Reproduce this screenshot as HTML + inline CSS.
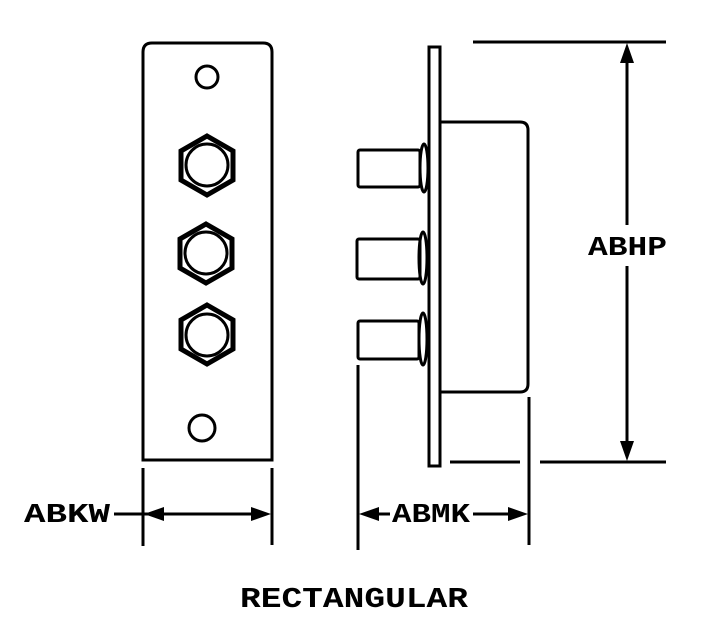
<!DOCTYPE html>
<html><head><style>body{margin:0;background:#fff}</style></head><body>
<svg width="726" height="640" viewBox="0 0 726 640" xmlns="http://www.w3.org/2000/svg" style="display:block">
<g fill="none" stroke="#000" stroke-width="3">
<path d="M143,460 L143,52 Q143,43 152,43 L263,43 Q272,43 272,52 L272,460 Z"/>
<circle cx="207" cy="77" r="11"/>
<circle cx="202" cy="428" r="13"/>
<g stroke-width="5">
<polygon points="207,136 233,151 233,180 207,195 181,180 181,151"/>
<polygon points="206,224 232,239 232,268 206,283 180,268 180,239"/>
<polygon points="207,305 233,320 233,349 207,364 181,349 181,320"/>
</g>
<circle cx="207" cy="165" r="21"/>
<circle cx="206" cy="253" r="21"/>
<circle cx="207" cy="335" r="21"/>
<rect x="429" y="47" width="11" height="419"/>
<path d="M441,122 L520,122 Q528,122 528,130 L528,384 Q528,392 520,392 L441,392"/>
<rect x="358" y="150" width="62" height="37" rx="2"/>
<rect x="357" y="239" width="63" height="40" rx="2"/>
<rect x="358" y="321" width="61" height="38" rx="2"/>
<ellipse cx="424" cy="168" rx="4" ry="24"/>
<ellipse cx="423" cy="258" rx="4" ry="26"/>
<ellipse cx="423" cy="339" rx="4" ry="26"/>
<line x1="143" y1="468" x2="143" y2="546"/>
<line x1="272" y1="468" x2="272" y2="545"/>
<line x1="358" y1="365" x2="358" y2="550"/>
<line x1="529" y1="397" x2="529" y2="545"/>
<line x1="473" y1="42" x2="666" y2="42"/>
<line x1="450" y1="462" x2="520" y2="462"/>
<line x1="540" y1="462" x2="666" y2="462"/>
<line x1="114" y1="514" x2="262" y2="514"/>
<line x1="368" y1="514" x2="390" y2="514"/>
<line x1="473" y1="514" x2="518" y2="514"/>
<line x1="627" y1="55" x2="627" y2="225"/>
<line x1="627" y1="266" x2="627" y2="448"/>
</g>
<g fill="#000">
<polygon points="144,514 164,507 164,521"/>
<polygon points="271,514 251,507 251,521"/>
<polygon points="359,514 379,507 379,521"/>
<polygon points="528,514 508,507 508,521"/>
<polygon points="627,43 620,63 634,63"/>
<polygon points="627,461 620,441 634,441"/>
</g>
<g font-family="Liberation Mono, monospace" font-weight="bold" font-size="27" fill="#000">
<text x="24" y="522" textLength="86" lengthAdjust="spacingAndGlyphs">ABKW</text>
<text x="392" y="522" textLength="78" lengthAdjust="spacingAndGlyphs">ABMK</text>
<text x="588" y="255" textLength="79" lengthAdjust="spacingAndGlyphs">ABHP</text>
<text x="240" y="607" font-size="29" textLength="228" lengthAdjust="spacingAndGlyphs">RECTANGULAR</text>
</g>
</svg>
</body></html>
